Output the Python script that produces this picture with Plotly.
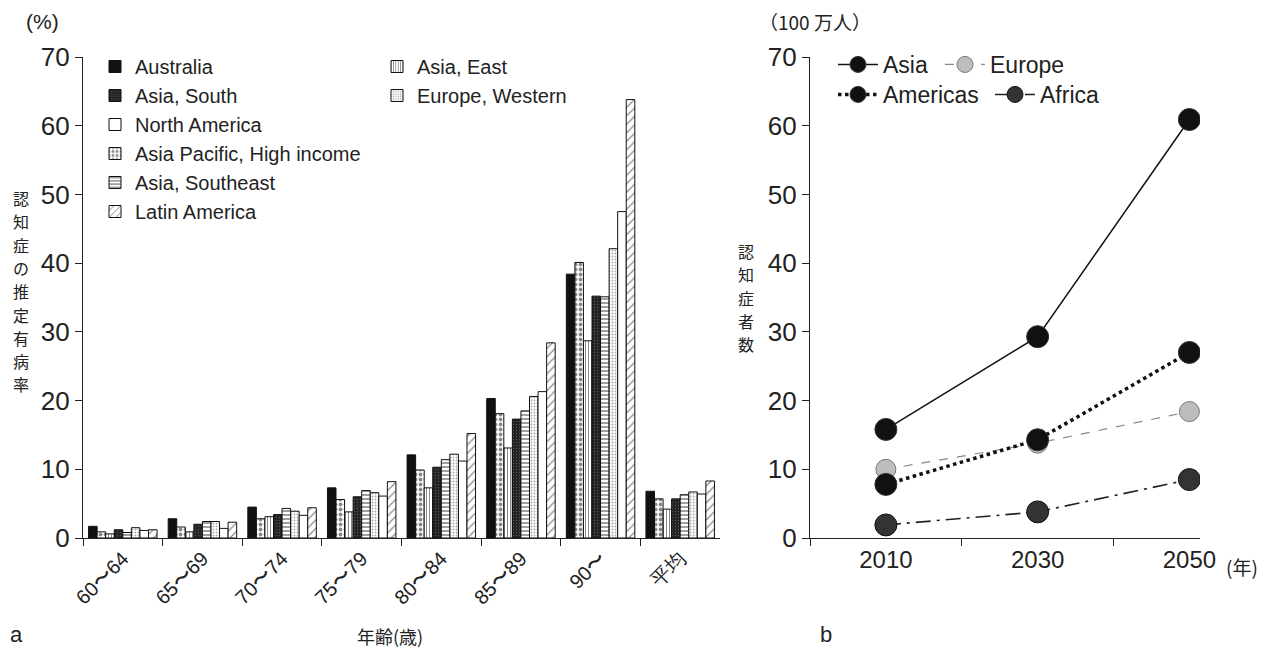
import plotly.graph_objects as go

# ---------------- data (panel a) ----------------
age_groups = ["60〜64", "65〜69", "70〜74", "75〜79", "80〜84", "85〜89", "90〜", "平均"]
australia = [1.7, 2.8, 4.5, 7.3, 12.1, 20.3, 38.4, 6.8]
asia_pacific_hi = [0.9, 1.6, 2.8, 5.6, 9.9, 18.1, 40.1, 5.7]
asia_east = [0.6, 0.9, 3.1, 3.8, 7.3, 13.1, 28.7, 4.2]
asia_south = [1.2, 2.0, 3.4, 6.0, 10.3, 17.3, 35.2, 5.7]
asia_southeast = [0.8, 2.4, 4.3, 6.9, 11.4, 18.5, 35.1, 6.3]
europe_western = [1.5, 2.4, 3.9, 6.6, 12.2, 20.6, 42.1, 6.7]
north_america = [1.1, 1.4, 3.3, 6.1, 11.2, 21.3, 47.5, 6.4]
latin_america = [1.2, 2.3, 4.4, 8.2, 15.2, 28.4, 63.8, 8.3]

# ---------------- data (panel b) ----------------
years = ["2010", "2030", "2050"]
asia = [15.8, 29.3, 60.9]
europe = [10.0, 13.8, 18.4]
americas = [7.8, 14.3, 27.0]
africa = [1.9, 3.8, 8.5]

FONT = "Liberation Sans, Arial, sans-serif"
JFONT = "Noto Sans CJK JP, sans-serif"

fig = go.Figure()

bar_series = [
    ("Australia", australia, dict(color="#111111", pattern=dict(shape="")), "legend", 1),
    ("Asia Pacific, High income", asia_pacific_hi,
     dict(color="white", pattern=dict(shape=".", fgcolor="#111", size=5, solidity=0.45, fillmode="overlay")), "legend", 4),
    ("Asia, East", asia_east,
     dict(color="white", pattern=dict(shape="|", fgcolor="#111", size=3, solidity=0.35, fillmode="overlay")), "legend2", 1),
    ("Asia, South", asia_south,
     dict(color="#222222", pattern=dict(shape=".", fgcolor="#8a8a8a", size=3, solidity=0.15, fillmode="overlay")), "legend", 2),
    ("Asia, Southeast", asia_southeast,
     dict(color="white", pattern=dict(shape="-", fgcolor="#111", size=4, solidity=0.4, fillmode="overlay")), "legend", 5),
    ("Europe, Western", europe_western,
     dict(color="white", pattern=dict(shape=".", fgcolor="#555", size=3, solidity=0.3, fillmode="overlay")), "legend2", 2),
    ("North America", north_america, dict(color="white", pattern=dict(shape="")), "legend", 3),
    ("Latin America", latin_america,
     dict(color="white", pattern=dict(shape="/", fgcolor="#111", size=6, solidity=0.2, fillmode="overlay")), "legend", 6),
]

for name, vals, mk, lg, rank in bar_series:
    marker = dict(mk)
    marker["line"] = dict(color="#111", width=1)
    fig.add_trace(go.Bar(
        x=age_groups, y=vals, name=name, marker=marker,
        xaxis="x", yaxis="y", legend=lg, legendrank=rank,
    ))

line_series = [
    ("Asia", asia, dict(color="#111", width=1.5, dash="solid"),
     dict(color="#111", size=22, line=dict(color="#333", width=1)), "legend3"),
    ("Europe", europe, dict(color="#888", width=1.2, dash="dash"),
     dict(color="#bdbdbd", size=20, line=dict(color="#777", width=1)), "legend4"),
    ("Americas", americas, dict(color="#111", width=3.5, dash="dot"),
     dict(color="#111", size=22, line=dict(color="#333", width=1)), "legend5"),
    ("Africa", africa, dict(color="#222", width=1.6, dash="longdashdot"),
     dict(color="#333", size=22, line=dict(color="#111", width=1)), "legend6"),
]
for name, vals, ln, mk, lg in line_series:
    fig.add_trace(go.Scatter(
        x=years, y=vals, name=name, mode="lines+markers", line=ln, marker=mk,
        xaxis="x2", yaxis="y2", legend=lg,
    ))

# the page body has an 8px margin: draw a figure that fills the window exactly
OFF = 8
W, H = 1268 - 2 * OFF, 661 - 2 * OFF
def px(x):
    return (x - OFF) / W
def py(y):
    return 1 - (y - OFF) / H

def axis_style(size):
    return dict(showgrid=False, zeroline=False, showline=True, linecolor="#222",
                linewidth=1.2, ticks="outside", tickcolor="#222", ticklen=7,
                automargin=False, tickfont=dict(family=FONT, size=size, color="#222"))

leg_common = dict(xanchor="left", yanchor="top", bgcolor="rgba(0,0,0,0)",
                  tracegroupgap=0, traceorder="normal", borderwidth=0)

def line_legend(x, y):
    return dict(x=px(x), y=py(y), font=dict(family=FONT, size=23, color="#222"),
                itemwidth=40, orientation="v", **leg_common)

fig.update_layout(
    width=W, height=H,
    margin=dict(l=0, r=0, t=0, b=0, autoexpand=False),
    paper_bgcolor="white", plot_bgcolor="white",
    barmode="group", bargap=0.14, bargroupgap=0.0,
    font=dict(family=FONT, color="#222"),
    xaxis=dict(domain=[px(83), px(720)], anchor="y", tickson="boundaries", tickangle=-45,
               range=[-0.5, 7.5], **axis_style(20)),
    yaxis=dict(domain=[py(538), py(57)], anchor="x", range=[0, 70], tick0=0, dtick=10,
               **axis_style(26)),
    xaxis2=dict(domain=[px(810), px(1200)], anchor="y2", type="category", tickson="boundaries",
                range=[-0.5, 2.07], **axis_style(24)),
    yaxis2=dict(domain=[py(538), py(57)], anchor="x2", range=[0, 70], tick0=0, dtick=10,
                **axis_style(26)),
    legend=dict(x=px(95), y=py(47), font=dict(family=FONT, size=20, color="#222"),
                itemwidth=30, orientation="v", **leg_common),
    legend2=dict(x=px(377), y=py(47), font=dict(family=FONT, size=20, color="#222"),
                 itemwidth=30, orientation="v", **leg_common),
    legend3=line_legend(833, 43),
    legend4=line_legend(940, 43),
    legend5=line_legend(833, 73),
    legend6=line_legend(990, 73),
)

def ann(text, x, y, size=20, family=FONT, xanchor="center", yanchor="middle"):
    fig.add_annotation(text=text, x=px(x), y=py(y), xref="paper", yref="paper",
                       showarrow=False, xanchor=xanchor, yanchor=yanchor,
                       font=dict(family=family, size=size, color="#222"))

def vertical_text(text, x, y_first, step, size):
    for i, ch in enumerate(text):
        ann(ch, x, y_first + i * step, size=size, family=JFONT)

ann("(%)", 42, 22, size=21)
vertical_text("認知症の推定有病率", 21, 198, 23.3, 16)
ann("年齢(歳)", 390, 636, size=18, family=JFONT)
ann("a", 16, 634, size=22)
ann("（100 万人）", 815, 22, size=19, family=JFONT)
vertical_text("認知症者数", 746, 251, 23.3, 16)
ann("(年)", 1242, 566, size=19, family=JFONT)
ann("b", 826, 634, size=22)

fig.write_html("out.html")
